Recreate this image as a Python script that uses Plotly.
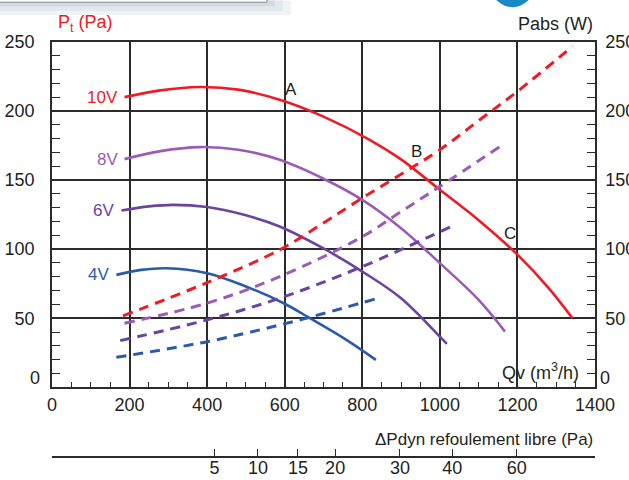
import plotly.graph_objects as go

# ---- data ----
qv_10v = [187, 280, 381, 480, 587, 700, 819, 900, 1000, 1100, 1200, 1280, 1342]
pt_10v = [210.1, 215, 217.4, 215.5, 208.2, 196, 179.2, 165, 143, 121, 96, 72, 50]
qv_8v = [187, 280, 381, 480, 587, 700, 800, 900, 1000, 1100, 1168]
pt_8v = [165.2, 171, 173.9, 172, 164.7, 151, 135.7, 115.2, 89.9, 63.3, 40.3]
qv_6v = [179, 250, 312, 400, 500, 587, 700, 800, 900, 1000, 1018]
pt_6v = [128, 131, 132.1, 130.5, 124.5, 116.4, 100.5, 83.8, 64.5, 36.7, 31.4]
qv_4v = [166, 230, 295, 400, 500, 600, 665, 759, 835]
pt_4v = [81.4, 85, 86.2, 82.6, 73, 60.5, 50, 34.3, 19.8]

qv_pabs_10v = [183, 400, 587, 700, 800, 1000, 1103, 1200, 1342]
pabs_10v = [51.7, 75.8, 99.5, 119, 137, 172, 193.7, 214.2, 246.8]
qv_pabs_8v = [187, 400, 587, 800, 900, 1000, 1155]
pabs_8v = [46.4, 60.9, 80.1, 109, 127.2, 145.4, 174.3]
qv_pabs_6v = [176, 400, 587, 800, 1026]
pabs_6v = [33.8, 48.8, 64.5, 87.4, 115.9]
qv_pabs_4v = [166, 400, 587, 700, 832]
pabs_4v = [21.7, 33, 45.1, 53.4, 63.8]

speed_labels = ["10V", "8V", "6V", "4V"]
point_labels = ["A", "B", "C"]
point_qv = [617, 940, 1181]
point_pt = [215.4, 170.7, 111.6]

y_zero = 0
y_ticks = [50, 100, 150, 200, 250]

dyn_labels = ["5", "10", "15", "20", "30", "40", "60"]
dyn_qv_pos = [419, 531, 634, 730, 897, 1032, 1198]

colors = ["#ED1C24", "#9B5CB6", "#6B449F", "#2A5AAA"]
axis_col = "#2b2b2b"
txt_col = "#231f20"
FONT = "Liberation Sans Narrow, Liberation Sans, Arial, sans-serif"
FS = 18

fig = go.Figure()

pt_series = [(qv_10v, pt_10v), (qv_8v, pt_8v), (qv_6v, pt_6v), (qv_4v, pt_4v)]
pabs_series = [(qv_pabs_10v, pabs_10v), (qv_pabs_8v, pabs_8v),
               (qv_pabs_6v, pabs_6v), (qv_pabs_4v, pabs_4v)]

for (qx, py), col, name in zip(pabs_series, colors, speed_labels):
    fig.add_trace(go.Scatter(x=qx, y=py, mode="lines", yaxis="y2", name=name + " Pabs",
                             line=dict(color=col, width=3, dash="10px,7px", shape="spline"),
                             hoverinfo="skip"))
for (qx, py), col, name in zip(pt_series, colors, speed_labels):
    fig.add_trace(go.Scatter(x=qx, y=py, mode="lines", name=name,
                             line=dict(color=col, width=2.6, shape="spline")))

# invisible trace to bind the secondary (ΔPdyn) axis
fig.add_trace(go.Scatter(x=[0, 1400], y=[0, 0], xaxis="x2", mode="lines",
                         line=dict(width=0), opacity=0, hoverinfo="skip", showlegend=False))

annotations = []
for (qx, py), col, name in zip(pt_series, colors, speed_labels):
    annotations.append(dict(x=qx[0], y=py[0], xref="x", yref="y", text=name, showarrow=False,
                            xanchor="right", yanchor="middle", xshift=-5,
                            font=dict(family="Liberation Sans, Arial, sans-serif", size=17, color=col)))
for lab, qx, py in zip(point_labels, point_qv, point_pt):
    annotations.append(dict(x=qx, y=py, xref="x", yref="y", text=lab, showarrow=False,
                            xanchor="center", yanchor="middle",
                            font=dict(family=FONT, size=17, color=txt_col)))

# the "0" labels of both y axes sit a little above the baseline
annotations += [
    dict(x=0, y=y_zero, xref="paper", yref="y", text=str(y_zero), showarrow=False,
         xanchor="right", yanchor="middle", xshift=-10, yshift=9,
         font=dict(family=FONT, size=FS, color=txt_col)),
    dict(x=1, y=y_zero, xref="paper", yref="y", text=str(y_zero), showarrow=False,
         xanchor="left", yanchor="middle", xshift=3, yshift=9,
         font=dict(family=FONT, size=FS, color=txt_col)),
]

annotations += [
    dict(x=0.008, y=1.045, xref="paper", yref="paper", text="P<sub>t</sub> (Pa)", showarrow=False,
         xanchor="left", yanchor="middle", font=dict(family=FONT, size=FS, color="#ED1C24")),
    dict(x=1.0, y=1.043, xref="paper", yref="paper", text="Pabs (W)", showarrow=False,
         xanchor="right", yanchor="middle", font=dict(family=FONT, size=FS, color=txt_col)),
    dict(x=0.975, y=0.207, xref="paper", yref="paper", text="Qv (m<sup>3</sup>/h)", showarrow=False,
         xanchor="right", yanchor="middle", font=dict(family=FONT, size=FS, color=txt_col)),
    dict(x=1.0, y=0.043, xref="paper", yref="paper", text="ΔPdyn refoulement libre (Pa)",
         showarrow=False, xanchor="right", yanchor="middle",
         font=dict(family=FONT, size=17, color=txt_col)),
]

shapes = [
    # soft shadow (gradient) under the cut-off box at top left
    dict(type="rect", xref="paper", yref="paper", x0=-0.2, x1=0.44, y0=1.065, y1=1.1,
         fillcolor="#f1f4f7", line=dict(width=0), layer="below"),
    dict(type="rect", xref="paper", yref="paper", x0=-0.2, x1=0.425, y0=1.075, y1=1.1,
         fillcolor="#e2e9ee", line=dict(width=0), layer="below"),
    dict(type="rect", xref="paper", yref="paper", x0=-0.2, x1=0.41, y0=1.086, y1=1.1,
         fillcolor="#cfdae3", line=dict(width=0), layer="below"),
    dict(type="rect", xref="paper", yref="paper", x0=-0.2, x1=0.396, y0=1.096, y1=1.2,
         fillcolor="white", line=dict(color="#8c8c8c", width=1)),
    # cut-off logo at top right
    dict(type="circle", xref="paper", yref="paper", x0=0.808, x1=0.888, y0=1.084, y1=1.188,
         fillcolor="#1a8ac6", line=dict(width=0)),
]

grid = dict(showgrid=True, gridcolor=axis_col, gridwidth=1.5, zeroline=False)
tf = dict(family=FONT, size=FS, color=txt_col)

fig.update_layout(
    width=629, height=480,
    margin=dict(l=52, r=34, t=42, b=23, autoexpand=False),
    paper_bgcolor="white", plot_bgcolor="white",
    showlegend=False,
    font=dict(family=FONT, size=FS, color=txt_col),
    xaxis=dict(range=[0, 1400], dtick=200, tick0=0, **grid, automargin=False,
               showline=True, linecolor=axis_col, linewidth=1.5, mirror=True,
               ticks="inside", ticklen=6, tickcolor=axis_col, tickwidth=1.2,
               minor=dict(dtick=50, ticks="inside", ticklen=6, tickcolor=axis_col,
                          tickwidth=1.2, showgrid=False),
               tickfont=tf, ticklabelstandoff=0,
               anchor="y", domain=[0, 1]),
    yaxis=dict(range=[0, 250], tickmode="array", tickvals=y_ticks,
               **grid, automargin=False,
               showline=True, linecolor=axis_col, linewidth=1.5,
               ticks="inside", ticklen=8, tickcolor=axis_col, tickwidth=1.2,
               minor=dict(dtick=10, tick0=0, ticks="inside", ticklen=8, tickcolor=axis_col,
                          tickwidth=1.2, showgrid=False),
               tickfont=tf, ticklabelstandoff=12,
               domain=[0.168, 1]),
    yaxis2=dict(range=[0, 250], tickmode="array", tickvals=y_ticks,
                overlaying="y", side="right", anchor="x",
                showgrid=False, zeroline=False, automargin=False,
                showline=True, linecolor=axis_col, linewidth=1.5,
                ticks="inside", ticklen=8, tickcolor=axis_col, tickwidth=1.2,
                minor=dict(dtick=10, tick0=0, ticks="inside", ticklen=8, tickcolor=axis_col,
                           tickwidth=1.2, showgrid=False),
                tickfont=tf, ticklabelstandoff=5),
    xaxis2=dict(range=[0, 1400], overlaying="x", anchor="free", position=0, side="bottom",
                showgrid=False, zeroline=False, automargin=False,
                showline=True, linecolor=axis_col, linewidth=1.5,
                tickmode="array", tickvals=dyn_qv_pos, ticktext=dyn_labels,
                ticks="inside", ticklen=7, tickcolor=axis_col, tickwidth=1.2,
                tickfont=tf, ticklabelstandoff=-5),
    annotations=annotations,
    shapes=shapes,
)

fig.write_html("out.html", config={"displayModeBar": False},
               post_script="document.body.style.margin='0';document.body.style.padding='0';")
